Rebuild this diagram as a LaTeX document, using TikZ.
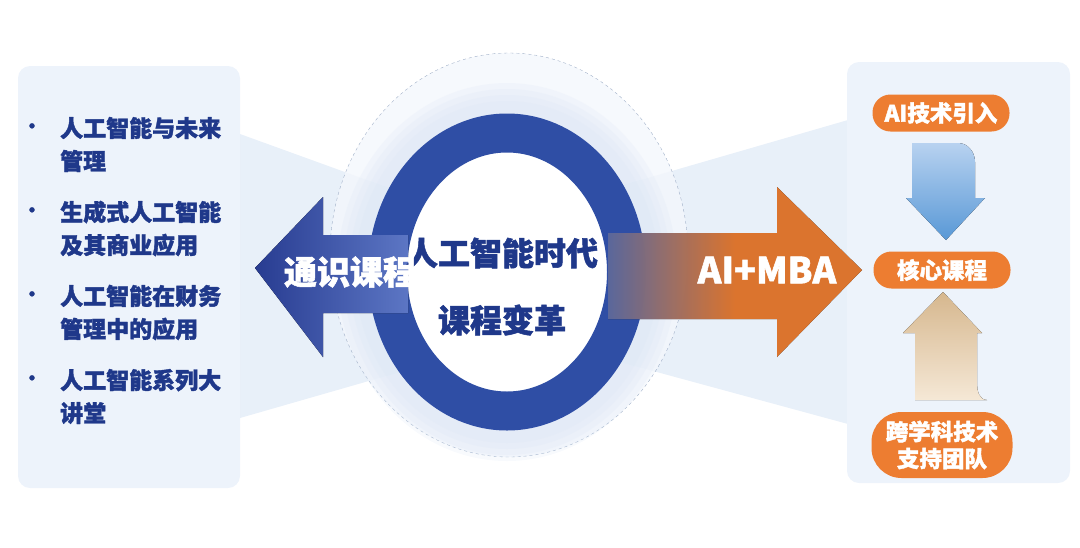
\documentclass[tikz,border=0pt]{standalone}
\usepackage{fontspec}
\setmainfont{Noto Sans CJK SC}[BoldFeatures={FakeBold=1.6}]
\usetikzlibrary{positioning}
\definecolor{colornavy}   {RGB}{31 ,56 ,138}
\definecolor{colorring}   {RGB}{47 ,78 ,165}
\definecolor{colorarrowl} {RGB}{40 ,60 ,145}
\definecolor{colorarrowr} {RGB}{92 ,118,196}
\definecolor{colororange} {RGB}{237,125,49 }
\definecolor{colorgrey}   {RGB}{98 ,112,168}
\definecolor{colorpanel}  {RGB}{237,243,251}
\definecolor{colorbeam}   {RGB}{222,233,246}
\definecolor{colorglowin} {RGB}{214,227,245}
\definecolor{colorglowout}{RGB}{244,247,252}
\definecolor{colordash}   {RGB}{160,176,200}
\definecolor{colorbluetop}{RGB}{184,210,240}
\definecolor{colorbluebot}{RGB}{88 ,152,214}
\definecolor{colorsandtop}{RGB}{214,183,142}
\definecolor{colorsandbot}{RGB}{245,232,214}

\begin{document}
\begin{tikzpicture}[
    x=1pt, y=-1pt,
    base/.style={inner sep=0pt,align=center},
    itemtxt/.style={base,text=colornavy,font={\fontsize{23}{33}\selectfont\bfseries},align=left,anchor=west},
    bullet/.style={base,text=colornavy,font={\fontsize{18}{18}\selectfont\bfseries}},
    title/.style={base,text=colornavy,font={\fontsize{32}{67}\selectfont\bfseries}},
    arrowtxt/.style={base,text=white,font={\fontsize{33}{33}\selectfont\bfseries}},
    pill/.style={base,fill=colororange,text=white,font={\fontsize{22.5}{27}\selectfont\bfseries},rounded corners=18pt,minimum width=137pt,minimum height=37pt},
    panel/.style={fill=colorpanel,rounded corners=12pt},
]

    \useasboundingbox (0,0) rectangle (1080,547);

    % Beams
    \fill[colorbeam,opacity=.7] (240,134) -- (400,192) -- (400,372) -- (240,418) -- cycle;
    \fill[colorbeam,opacity=.7] (848,120) -- (620,186) -- (620,362) -- (848,424) -- cycle;

    % Panels
    \fill[panel] (18,66) rectangle (240,488);
    \fill[panel] (847,62) rectangle (1070,483);

    % Glow and ring
    \fill[colorglowout,opacity=.8] (509,255) ellipse [x radius=179, y radius=202];
    \draw[dashed,colordash,thin] (509,255) ellipse [x radius=179, y radius=202];
    \foreach \w in {60,48,36,24} {
        \draw[line width=\w pt,colorglowin,opacity=.18] (507,272) ellipse [x radius=140, y radius=159];
    }
    \fill[white] (507,272) ellipse [x radius=100, y radius=120];
    \draw[line width=39pt,colorring] (507,272) ellipse [x radius=119.5, y radius=139];

    % Arrows
    \fill[left color=colorarrowl,right color=colorarrowr]
        (255,268) -- (323,197) -- (323,235) -- (408,235) -- (408,313) -- (323,313) -- (323,357) -- cycle;
    \fill[left color=colorgrey,right color=colororange,middle color=colororange,opacity=.92]
        (608,233) -- (777,233) -- (777,187) -- (862,270) -- (777,357) -- (777,319) -- (608,319) -- cycle;
    \fill[top color=colorbluetop,bottom color=colorbluebot]
        (912,143) -- (958,143) to[out=0,in=90] (975,162) -- (975,198) -- (985,198)
        -- (946,240) -- (906,198) -- (912,198) -- cycle;
    \fill[top color=colorsandtop,bottom color=colorsandbot]
        (943,292) -- (982,333) -- (977,333) -- (977,384) to[out=-90,in=180] (987,400)
        -- (915,400) -- (915,333) -- (903,333) -- cycle;

    % Nodes
    \node[title] (era)    at (502,253) {人工智能时代};
    \node[title] (reform) at (502,320) {课程变革};
    \node[arrowtxt] (general) at (350,272) {通识课程};
    \node[arrowtxt,font={\fontsize{36}{36}\selectfont\bfseries}] (aimba) at (767,270) {AI+MBA};

    \node[pill] (intro) at (941,113) {AI技术引入};
    \node[pill] (core)  at (942,270) {核心课程};
    \node[pill,minimum width=141pt,minimum height=66pt,rounded corners=30pt] (team) at (942,445) {跨学科技术\\支持团队};

    % Text
    \node[bullet] (bul1) at (32,128) {•};
    \node[bullet] (bul2) at (32,212) {•};
    \node[bullet] (bul3) at (32,296) {•};
    \node[bullet] (bul4) at (32,380) {•};
    \node[itemtxt] (item1) at (60,144.5) {人工智能与未来\\管理};
    \node[itemtxt] (item2) at (60,228.5) {生成式人工智能\\及其商业应用};
    \node[itemtxt] (item3) at (60,312.5) {人工智能在财务\\管理中的应用};
    \node[itemtxt] (item4) at (60,396.5) {人工智能系列大\\讲堂};

\end{tikzpicture}
\end{document}
